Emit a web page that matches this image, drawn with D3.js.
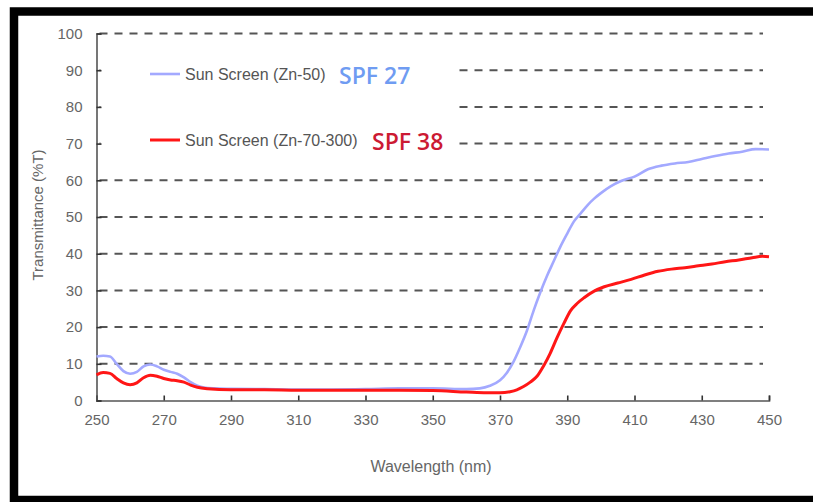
<!DOCTYPE html>
<html>
<head>
<meta charset="utf-8">
<script src="https://cdn.jsdelivr.net/npm/d3@7"></script>
<style>
  body { margin: 0; background: #fff; }
  .tick-label { font-family: "Liberation Sans", Arial, sans-serif; font-size: 15px; fill: #666; }
  .legend-label { font-family: "Liberation Sans", Arial, sans-serif; font-size: 16px; fill: #555; }
  .spf { font-family: "Open Sans", sans-serif; font-weight: 600; font-size: 23px; }
</style>
</head>
<body>
<script>
// wavelength (nm) and transmittance (%T)
var zn50Wave = [250, 252, 254, 256, 258, 260, 262, 264, 266, 268, 270, 272, 274, 276, 278, 280, 282, 285, 290, 300, 310, 320, 330, 340, 350, 360, 364, 367, 370, 372, 374, 376, 378, 380, 382, 384, 386, 388, 390, 392, 394, 396, 398, 400, 403, 406, 410, 414, 418, 422, 426, 430, 434, 438, 442, 446, 450];
var zn50T = [12.0, 12.2, 12.0, 10.0, 8.0, 7.3, 7.8, 9.3, 9.8, 9.3, 8.4, 7.8, 7.3, 6.3, 5.0, 4.0, 3.5, 3.3, 3.2, 3.1, 3.0, 3.0, 3.1, 3.3, 3.3, 3.1, 3.3, 4.0, 5.5, 7.5, 10.5, 14.5, 19.0, 24.5, 29.5, 34.0, 38.0, 42.0, 45.5, 48.8, 51.0, 53.2, 55.0, 56.5, 58.4, 59.8, 61.0, 63.0, 64.0, 64.6, 65.0, 65.8, 66.6, 67.3, 67.8, 68.5, 68.4];

var zn70Wave = [250, 252, 254, 256, 258, 260, 262, 264, 266, 268, 270, 272, 274, 276, 278, 280, 283, 290, 300, 310, 320, 330, 340, 350, 360, 366, 370, 373, 375, 377, 379, 381, 383, 385, 387, 389, 391, 393, 395, 398, 401, 405, 409, 413, 417, 421, 425, 429, 433, 437, 441, 445, 448, 450];
var zn70T = [7.0, 7.6, 7.4, 6.0, 4.8, 4.3, 4.8, 6.2, 6.9, 6.6, 6.0, 5.6, 5.4, 5.0, 4.2, 3.6, 3.2, 2.9, 2.9, 2.8, 2.8, 2.8, 2.8, 2.7, 2.3, 2.1, 2.1, 2.4, 2.9, 3.8, 5.0, 6.6, 9.5, 13.0, 17.2, 21.0, 24.5, 26.5, 28.0, 29.8, 31.0, 32.0, 33.0, 34.2, 35.2, 35.8, 36.2, 36.7, 37.2, 37.8, 38.3, 38.9, 39.3, 39.2];

var xTicks = [250, 270, 290, 310, 330, 350, 370, 390, 410, 430, 450];
var yTicks = [0, 10, 20, 30, 40, 50, 60, 70, 80, 90, 100];

var seriesNames = ["Sun Screen (Zn-50)", "Sun Screen (Zn-70-300)"];
var spfLabels = ["SPF 27", "SPF 38"];

var width = 813, height = 502;
var plot = { left: 96.5, right: 769, top: 33.5, bottom: 400.5 };

var svg = d3.select("body").append("svg")
    .attr("width", width)
    .attr("height", height);

// black frame (left, top, bottom; runs off on the right)
svg.append("rect")
    .attr("x", 14).attr("y", 11.5)
    .attr("width", 900).attr("height", 488.5)
    .style("fill", "#fff")
    .style("stroke", "#000")
    .style("stroke-width", 8.5);

var x = d3.scaleLinear().domain([250, 450]).range([plot.left, plot.right]);
var y = d3.scaleLinear().domain([0, 100]).range([plot.bottom, plot.top]);

// dashed grid
svg.append("g").selectAll("line")
    .data(yTicks.filter(function(d) { return d > 0; }))
    .enter().append("line")
    .attr("x1", plot.left + 3).attr("x2", plot.right - 6)
    .attr("y1", function(d) { return y(d); })
    .attr("y2", function(d) { return y(d); })
    .style("stroke", "#555")
    .style("stroke-width", 2)
    .style("stroke-dasharray", "8,7");

// white box behind the legend hides part of the grid
svg.append("rect")
    .attr("x", plot.left + 4).attr("y", y(95))
    .attr("width", 356).attr("height", y(62) - y(95))
    .style("fill", "#fff");

// axes
var xAxis = d3.axisBottom(x).tickValues(xTicks).tickSize(-5).tickPadding(14);
var yAxis = d3.axisLeft(y).tickValues(yTicks).tickSize(-5).tickPadding(14);

var gx = svg.append("g")
    .attr("transform", "translate(0," + plot.bottom + ")")
    .call(xAxis);
var gy = svg.append("g")
    .attr("transform", "translate(" + plot.left + ",0)")
    .call(yAxis);

[gx, gy].forEach(function(g) {
    g.select(".domain").style("stroke", "#555").style("stroke-width", 1.6);
    g.selectAll(".tick line").style("stroke", "#333").style("stroke-width", 1.6);
    g.selectAll(".tick text").attr("class", "tick-label").style("font-size", null).style("font-family", null);
    g.attr("font-size", null).attr("font-family", null);
});
gx.selectAll(".tick text").attr("dy", "0.71em");

// axis titles
svg.append("text")
    .attr("class", "tick-label")
    .attr("x", 431).attr("y", 472)
    .attr("text-anchor", "middle")
    .style("font-size", "16px")
    .text("Wavelength (nm)");

svg.append("text")
    .attr("class", "tick-label")
    .attr("transform", "translate(43,215) rotate(-90)")
    .attr("text-anchor", "middle")
    .text("Transmittance (%T)");

// curves
var line = d3.line()
    .x(function(d) { return x(d[0]); })
    .y(function(d) { return y(d[1]); })
    .curve(d3.curveMonotoneX);

var series = [
    { wave: zn50Wave, t: zn50T, color: "#a3a9ff", w: 2.6, spf: "#6f9cf2" },
    { wave: zn70Wave, t: zn70T, color: "#ff1616", w: 3.0, spf: "#cc1a33" }
];

series.forEach(function(s) {
    svg.append("path")
        .datum(d3.zip(s.wave, s.t))
        .attr("d", line)
        .style("fill", "none")
        .style("stroke", s.color)
        .style("stroke-width", s.w)
        .style("stroke-linejoin", "round");
});

// legend
var legendY = [74, 140];
var spfX = [339, 372];

series.forEach(function(s, i) {
    svg.append("line")
        .attr("x1", 150).attr("x2", 180)
        .attr("y1", legendY[i]).attr("y2", legendY[i])
        .style("stroke", s.color)
        .style("stroke-width", s.w);
    svg.append("text")
        .attr("class", "legend-label")
        .attr("x", 185).attr("y", legendY[i] + 5.5)
        .text(seriesNames[i]);
    svg.append("text")
        .attr("class", "spf")
        .attr("x", spfX[i]).attr("y", legendY[i] + 10)
        .style("fill", s.spf)
        .text(spfLabels[i]);
});
</script>
</body>
</html>
